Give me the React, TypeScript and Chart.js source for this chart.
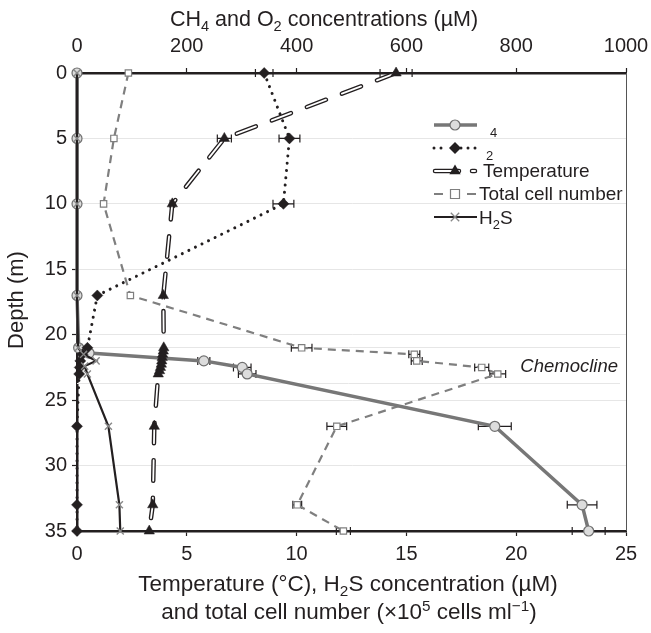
import React, { useEffect, useRef } from "react";
import { Chart, registerables } from "chart.js";

Chart.register(...registerables);

const FONT = '"Liberation Sans", Arial, Helvetica, sans-serif';
const INK = "#231f20";
const GRID = "#e6e6e6";

// axes
const depthMin = 0;
const depthMax = 35;
const depthStep = 5;
const bottomMax = 25;
const bottomStep = 5;
const topMax = 1000;
const topStep = 200;

// CH4 (µM, top axis)
const ch4Depth = [0, 5, 10, 17, 21, 21.4, 22, 22.5, 23, 27, 33, 35];
const ch4 = [0, 0, 0, 0, 3, 22, 231, 301, 310, 761, 920, 932];
const ch4Err = [0, 0, 0, 0, 0, 0, 11, 16, 16, 30, 27, 30];

// O2 (µM, top axis)
const o2Depth = [0, 5, 10, 17, 21, 21.5, 22, 22.5, 23, 27, 33, 35];
const o2 = [341, 387, 376, 37, 19, 10, 6, 5, 4, 0, 0, 0];
const o2Err = [16, 19, 19, 0, 0, 0, 0, 0, 0, 0, 0, 0];

// Temperature (°C, bottom axis)
const tempDepth = [0, 5, 10, 17, 21, 21.25, 21.5, 21.75, 22, 22.25, 22.5, 22.75, 23, 27, 33, 35];
const temp = [14.53, 6.71, 4.34, 3.93, 3.95, 3.93, 3.9, 3.88, 3.86, 3.84, 3.8, 3.76, 3.7, 3.52, 3.45, 3.29];
const tempErr = [0.73, 0.32, 0.1, 0.05, 0, 0, 0, 0, 0, 0, 0, 0, 0, 0, 0, 0];

// Total cell number (x10^5 cells/ml, bottom axis)
const cellDepth = [0, 5, 10, 17, 21, 21.5, 22, 22.5, 23, 27, 33, 35];
const cells = [2.34, 1.68, 1.21, 2.43, 10.23, 15.36, 15.47, 18.43, 19.16, 11.83, 10.03, 12.13];
const cellErr = [0, 0, 0, 0, 0.47, 0.25, 0.25, 0.32, 0.36, 0.45, 0.2, 0.32];

// H2S (µM, bottom axis)
const h2sDepth = [0, 5, 10, 17, 21, 21.5, 22, 22.4, 23, 27, 33, 35];
const h2s = [0, 0, 0, 0, 0.05, 0.3, 0.87, 0.35, 0.47, 1.43, 1.93, 1.97];

const chemoclineDepths = [20.95, 23.7];

const pts = (d: number[], v: number[]) => d.map((y, i) => ({ x: v[i], y }));

type Seg = [string, number]; // 0 normal, 1 sub, 2 sup

function drawRich(ctx: CanvasRenderingContext2D, segs: Seg[], x: number, y: number, size: number, align: "left" | "center") {
  const small = size * 0.68;
  const f = (s: number) => `${s}px ${FONT}`;
  let w = 0;
  const widths = segs.map(([t, k]) => {
    ctx.font = f(k ? small : size);
    const m = ctx.measureText(t).width;
    w += m;
    return m;
  });
  let cx = align === "center" ? x - w / 2 : x;
  ctx.textAlign = "left";
  ctx.textBaseline = "alphabetic";
  segs.forEach(([t, k], i) => {
    ctx.font = f(k ? small : size);
    const dy = k === 1 ? size * 0.24 : k === 2 ? -size * 0.36 : 0;
    ctx.fillText(t, cx, y + dy);
    cx += widths[i];
  });
}

const backdropPlugin = {
  id: "backdrop",
  beforeDatasetsDraw(chart: any) {
    const { ctx, chartArea: a, scales } = chart;
    ctx.save();
    ctx.strokeStyle = GRID;
    ctx.lineWidth = 1;
    chemoclineDepths.forEach((d) => {
      const y = Math.round(scales.y.getPixelForValue(d)) + 0.5;
      ctx.beginPath();
      ctx.moveTo(a.left, y);
      ctx.lineTo(a.right - 6, y);
      ctx.stroke();
    });
    ctx.strokeStyle = "#555";
    ctx.beginPath();
    ctx.moveTo(a.right + 0.5, a.top);
    ctx.lineTo(a.right + 0.5, a.bottom);
    ctx.stroke();
    // error bars
    ctx.strokeStyle = INK;
    ctx.lineWidth = 1.2;
    chart.data.datasets.forEach((ds: any) => {
      const errs: number[] | undefined = ds.errors;
      if (!errs) return;
      const xs = scales[ds.xAxisID];
      ds.data.forEach((p: any, j: number) => {
        const e = errs[j];
        if (!e) return;
        const y = scales.y.getPixelForValue(p.y);
        const x1 = xs.getPixelForValue(p.x - e);
        const x2 = xs.getPixelForValue(p.x + e);
        ctx.beginPath();
        ctx.moveTo(x1, y);
        ctx.lineTo(x2, y);
        ctx.moveTo(x1, y - 4);
        ctx.lineTo(x1, y + 4);
        ctx.moveTo(x2, y - 4);
        ctx.lineTo(x2, y + 4);
        ctx.stroke();
      });
    });
    ctx.restore();
  },
};

function marker(ctx: CanvasRenderingContext2D, style: string, x: number, y: number, r: number, fill: string, stroke: string, lw: number) {
  ctx.save();
  ctx.fillStyle = fill;
  ctx.strokeStyle = stroke;
  ctx.lineWidth = lw;
  ctx.beginPath();
  if (style === "circle") {
    ctx.arc(x, y, r, 0, Math.PI * 2);
    ctx.fill();
    ctx.stroke();
  } else if (style === "rectRot") {
    ctx.moveTo(x, y - r);
    ctx.lineTo(x + r, y);
    ctx.lineTo(x, y + r);
    ctx.lineTo(x - r, y);
    ctx.closePath();
    ctx.fill();
  } else if (style === "triangle") {
    ctx.moveTo(x, y - r);
    ctx.lineTo(x + r * 0.87, y + r * 0.5);
    ctx.lineTo(x - r * 0.87, y + r * 0.5);
    ctx.closePath();
    ctx.fill();
  } else if (style === "rect") {
    ctx.rect(x - r, y - r, 2 * r, 2 * r);
    ctx.fill();
    ctx.stroke();
  } else if (style === "crossRot") {
    ctx.moveTo(x - r * 0.7, y - r * 0.7);
    ctx.lineTo(x + r * 0.7, y + r * 0.7);
    ctx.moveTo(x + r * 0.7, y - r * 0.7);
    ctx.lineTo(x - r * 0.7, y + r * 0.7);
    ctx.stroke();
  }
  ctx.restore();
}

const overlayPlugin = {
  id: "overlay",
  afterDraw(chart: any) {
    const { ctx, scales } = chart;
    ctx.save();
    ctx.fillStyle = INK;
    // titles
    drawRich(ctx, [["CH", 0], ["4", 1], [" and O", 0], ["2", 1], [" concentrations (µM)", 0]], 324, 26, 21.5, "center");
    drawRich(ctx, [["Temperature (°C), H", 0], ["2", 1], ["S concentration (µM)", 0]], 348, 591, 22.5, "center");
    drawRich(ctx, [["and total cell number (×10", 0], ["5", 2], [" cells ml", 0], ["−1", 2], [")", 0]], 349, 619, 22.5, "center");
    ctx.save();
    ctx.translate(23, 300);
    ctx.rotate(-Math.PI / 2);
    ctx.font = `22px ${FONT}`;
    ctx.textAlign = "center";
    ctx.textBaseline = "alphabetic";
    ctx.fillText("Depth (m)", 0, 0);
    ctx.restore();

    // chemocline label
    ctx.font = `italic 18.5px ${FONT}`;
    ctx.textAlign = "right";
    ctx.textBaseline = "middle";
    ctx.fillText("Chemocline", 618, scales.y.getPixelForValue(22.45));

    // legend
    const rows = [125, 148, 171, 194, 217];
    const x0 = 434, x1 = 477, xm = 455, tx = 479;
    // row 1: CH4
    ctx.strokeStyle = "#777";
    ctx.lineWidth = 3.5;
    ctx.beginPath();
    ctx.moveTo(x0, rows[0]);
    ctx.lineTo(x1, rows[0]);
    ctx.stroke();
    marker(ctx, "circle", xm, rows[0], 5, "#dcdcdc", "#6f6f6f", 1.2);
    ctx.fillStyle = INK;
    ctx.font = `13px ${FONT}`;
    ctx.textAlign = "left";
    ctx.textBaseline = "middle";
    ctx.fillText("4", 490, rows[0] + 8);
    // row 2: O2
    ctx.fillStyle = INK;
    for (const dx of [0, 7, 27, 34, 41]) {
      ctx.beginPath();
      ctx.arc(x0 + dx, rows[1], 1.5, 0, Math.PI * 2);
      ctx.fill();
    }
    marker(ctx, "rectRot", xm, rows[1], 6, INK, INK, 1);
    ctx.fillStyle = INK;
    ctx.font = `13px ${FONT}`;
    ctx.fillText("2", 486, rows[1] + 8);
    // row 3: Temperature
    ctx.lineCap = "round";
    ctx.strokeStyle = INK;
    ctx.lineWidth = 4.5;
    ctx.beginPath();
    ctx.moveTo(x0 + 1, rows[2]);
    ctx.lineTo(x0 + 25, rows[2]);
    ctx.moveTo(472, rows[2]);
    ctx.lineTo(475, rows[2]);
    ctx.stroke();
    ctx.strokeStyle = "#fff";
    ctx.lineWidth = 2;
    ctx.beginPath();
    ctx.moveTo(x0 + 1, rows[2]);
    ctx.lineTo(x0 + 25, rows[2]);
    ctx.moveTo(472, rows[2]);
    ctx.lineTo(475, rows[2]);
    ctx.stroke();
    ctx.lineCap = "butt";
    marker(ctx, "triangle", xm, rows[2], 6.5, INK, INK, 1);
    ctx.fillStyle = INK;
    ctx.font = `19px ${FONT}`;
    ctx.fillText("Temperature", 483, rows[2] + 1);
    // row 4: Total cell number
    ctx.strokeStyle = "#7f7f7f";
    ctx.lineWidth = 2.2;
    ctx.beginPath();
    ctx.moveTo(x0, rows[3]);
    ctx.lineTo(x0 + 9, rows[3]);
    ctx.moveTo(467, rows[3]);
    ctx.lineTo(476, rows[3]);
    ctx.stroke();
    marker(ctx, "rect", xm, rows[3], 4.5, "#fff", "#7f7f7f", 1.2);
    ctx.fillStyle = INK;
    ctx.fillText("Total cell number", tx, rows[3] + 1);
    // row 5: H2S
    ctx.strokeStyle = INK;
    ctx.lineWidth = 2.2;
    ctx.beginPath();
    ctx.moveTo(x0, rows[4]);
    ctx.lineTo(x1, rows[4]);
    ctx.stroke();
    marker(ctx, "crossRot", xm, rows[4], 6, "#888", "#888", 1.3);
    ctx.fillStyle = INK;
    drawRich(ctx, [["H", 0], ["2", 1], ["S", 0]], tx, rows[4] + 7, 19, "left");
    ctx.restore();
  },
};

export default function App() {
  const ref = useRef<HTMLCanvasElement | null>(null);
  useEffect(() => {
    if (!ref.current) return;
    const tickFont = { family: FONT, size: 20 };
    const plain = (v: any) => String(v);
    const fitH = (h: number) => (s: any) => {
      s.height = h;
      s.paddingLeft = 0;
      s.paddingRight = 0;
    };
    const chart = new Chart(ref.current, {
      type: "line",
      data: {
        datasets: [
          {
            label: "H2S",
            data: pts(h2sDepth, h2s),
            xAxisID: "x",
            yAxisID: "y",
            borderColor: INK,
            borderWidth: 2.2,
            pointStyle: "crossRot",
            pointRadius: 5,
            pointBorderColor: "#888",
            pointBorderWidth: 1.4,
            clip: false,
            order: 0,
          },
          {
            label: "O2",
            data: pts(o2Depth, o2),
            xAxisID: "x2",
            yAxisID: "y",
            borderColor: INK,
            borderWidth: 3,
            borderDash: [0.01, 7.3],
            borderCapStyle: "round",
            pointStyle: "rectRot",
            pointRadius: 5.5,
            pointBackgroundColor: INK,
            pointBorderColor: INK,
            pointBorderWidth: 0.5,
            errors: o2Err,
            clip: false,
            order: 1,
          },
          {
            label: "Temperature",
            data: pts(tempDepth, temp),
            xAxisID: "x",
            yAxisID: "y",
            showLine: false,
            pointStyle: "triangle",
            pointRadius: 6,
            pointBackgroundColor: INK,
            pointBorderColor: INK,
            pointBorderWidth: 0.5,
            errors: tempErr,
            clip: false,
            order: 2,
          },
          {
            label: "Temperature inner",
            data: pts(tempDepth, temp),
            xAxisID: "x",
            yAxisID: "y",
            borderColor: "#ffffff",
            borderWidth: 1.8,
            borderDash: [20.5, 17],
            borderCapStyle: "round",
            pointRadius: 0,
            clip: false,
            order: 3,
          },
          {
            label: "Temperature outline",
            data: pts(tempDepth, temp),
            xAxisID: "x",
            yAxisID: "y",
            borderColor: INK,
            borderWidth: 4.5,
            borderDash: [20.5, 17],
            borderCapStyle: "round",
            pointRadius: 0,
            clip: false,
            order: 4,
          },
          {
            label: "CH4",
            data: pts(ch4Depth, ch4),
            xAxisID: "x2",
            yAxisID: "y",
            borderColor: "#777777",
            borderWidth: 3.5,
            pointStyle: "circle",
            pointRadius: 5,
            pointBackgroundColor: "#dcdcdc",
            pointBorderColor: "#6f6f6f",
            pointBorderWidth: 1.2,
            errors: ch4Err,
            clip: false,
            order: 5,
          },
          {
            label: "Total cell number",
            data: pts(cellDepth, cells),
            xAxisID: "x",
            yAxisID: "y",
            borderColor: "#7f7f7f",
            borderWidth: 2.2,
            borderDash: [8, 6],
            pointStyle: "rect",
            pointRadius: 4.5,
            pointBackgroundColor: "#ffffff",
            pointBorderColor: "#7f7f7f",
            pointBorderWidth: 1.2,
            errors: cellErr,
            clip: false,
            order: 6,
          },
        ] as any,
      },
      options: {
        responsive: false,
        animation: false,
        indexAxis: "y",
        layout: { padding: { left: 0, right: 25, top: 0, bottom: 0 } },
        plugins: { legend: { display: false }, tooltip: { enabled: false } },
        scales: {
          y: {
            type: "linear",
            position: "left",
            reverse: true,
            min: depthMin,
            max: depthMax,
            ticks: { stepSize: depthStep, font: tickFont, color: INK, padding: 5, callback: plain },
            grid: { color: GRID, lineWidth: 1, tickColor: INK, tickLength: 5, tickWidth: 1.2 },
            border: { color: INK, width: 2.5 },
            afterFit: (s: any) => {
              s.width = 77;
              s.paddingTop = 0;
              s.paddingBottom = 0;
            },
          },
          x: {
            type: "linear",
            position: "bottom",
            min: 0,
            max: bottomMax,
            ticks: { stepSize: bottomStep, font: tickFont, color: INK, padding: 6, maxRotation: 0, callback: plain },
            grid: { drawOnChartArea: false, tickColor: INK, tickLength: 5, tickWidth: 1.2 },
            border: { color: INK, width: 2.5 },
            afterFit: fitH(102),
          },
          x2: {
            type: "linear",
            position: "top",
            min: 0,
            max: topMax,
            ticks: { stepSize: topStep, font: tickFont, color: INK, padding: 10, maxRotation: 0, callback: plain },
            grid: { drawOnChartArea: false, tickColor: INK, tickLength: 5, tickWidth: 1.2 },
            border: { color: INK, width: 2.5 },
            afterFit: fitH(73),
          },
        },
      } as any,
      plugins: [backdropPlugin, overlayPlugin],
    });
    return () => chart.destroy();
  }, []);
  return (
    <div style={{ position: "fixed", left: 0, top: 0, width: 651, height: 633, background: "#fff" }}>
      <canvas ref={ref} width={651} height={633} style={{ display: "block" }} />
    </div>
  );
}
